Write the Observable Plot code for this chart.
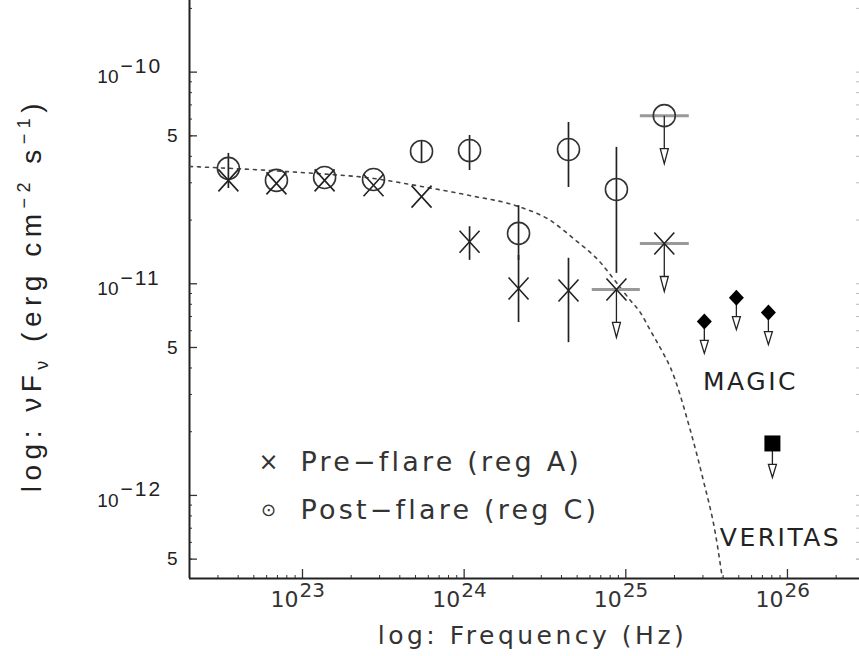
<!DOCTYPE html>
<html><head><meta charset="utf-8">
<script src="https://cdn.jsdelivr.net/npm/d3@7"></script>
<script src="https://cdn.jsdelivr.net/npm/@observablehq/plot@0.6"></script>
<style>body{margin:0;background:#fff}</style>
</head><body><div id="chart"></div>
<script>
// ---- data ----
const freq = [3.48e22, 6.9e22, 1.37e23, 2.75e23, 5.45e23, 1.08e24, 2.17e24, 4.42e24, 8.75e24, 1.73e25];
const preFlux = [3.08e-11, 2.98e-11, 3.08e-11, 2.92e-11, 2.58e-11, 1.58e-11, 9.5e-12, 9.3e-12, 9.4e-12, 1.55e-11];
const preLo   = [null, null, null, null, null, 1.29e-11, 6.56e-12, 5.27e-12, null, null];
const preHi   = [null, null, null, null, null, 1.86e-11, 1.36e-11, 1.32e-11, null, null];
const preFLo  = [null, null, null, null, null, null, null, null, 6.2e24, 1.23e25];
const preFHi  = [null, null, null, null, null, null, null, null, 1.23e25, 2.47e25];
const preUL   = [false, false, false, false, false, false, false, false, true, true];

const postFlux = [3.51e-11, 3.08e-11, 3.18e-11, 3.11e-11, 4.22e-11, 4.26e-11, 1.73e-11, 4.31e-11, 2.79e-11, 6.23e-11];
const postLo   = [2.82e-11, null, null, null, 3.7e-11, 3.43e-11, 1.29e-11, 2.85e-11, 1.12e-11, null];
const postHi   = [4.13e-11, null, null, null, 4.75e-11, 5.02e-11, 2.34e-11, 5.78e-11, 4.41e-11, null];
const postFLo  = [null, null, null, null, null, null, null, null, null, 1.23e25];
const postFHi  = [null, null, null, null, null, null, null, null, null, 2.47e25];
const postUL   = [false, false, false, false, false, false, false, false, false, true];

const magicFreq = [3.06e25, 4.83e25, 7.62e25];
const magicFlux = [6.64e-12, 8.6e-12, 7.31e-12];
const veritasFreq = [8.07e25];
const veritasFlux = [1.76e-12];

const modelFreq = [2.0e22, 9.72e22, 2.75e23, 5.44e23, 1.079e24, 2.167e24, 3.418e24, 4.742e24, 6.966e24, 8.748e24, 1.068e25, 1.231e25, 1.419e25, 1.708e25, 1.887e25, 2.509e25, 3.019e25, 3.583e25, 3.958e25];
const modelFlux = [3.584e-11, 3.357e-11, 3.145e-11, 2.883e-11, 2.614e-11, 2.318e-11, 1.991e-11, 1.637e-11, 1.26e-11, 1.014e-11, 8.34e-12, 7.31e-12, 6.02e-12, 4.68e-12, 4.02e-12, 2.026e-12, 1.176e-12, 6.6e-13, 4.05e-13];

const xMajor = [1e23, 1e24, 1e25, 1e26];
const xExp = ["23", "24", "25", "26"];
const yMajor = [1e-10, 1e-11, 1e-12];
const yExp = ["\u221210", "\u221211", "\u221212"];
const yFive = [5e-11, 5e-12, 5e-13];
const legendLabels = ["Pre\u2212flare (reg A)", "Post\u2212flare (reg C)"];
const instLabels = ["MAGIC", "VERITAS"];
const xTitle = "log: Frequency (Hz)";

// ---- tables ----
const pre = freq.map((f, i) => ({f, v: preFlux[i], lo: preLo[i], hi: preHi[i], fLo: preFLo[i], fHi: preFHi[i], ul: preUL[i]}));
const post = freq.map((f, i) => ({f, v: postFlux[i], lo: postLo[i], hi: postHi[i], fLo: postFLo[i], fHi: postFHi[i], ul: postUL[i]}));
const all = pre.concat(post);
const magic = magicFreq.map((f, i) => ({f, v: magicFlux[i]}));
const veritas = veritasFreq.map((f, i) => ({f, v: veritasFlux[i]}));
const model = modelFreq.map((f, i) => ({f, v: modelFlux[i]}));

const xDomain = [2.0e22, 2.79e26];
const yDomain = [4.05e-13, 2.18e-10];
const xMinor = [], yMinor = [];
for (let e = 22; e <= 26; e++) for (let k = 2; k <= 9; k++) { const v = k * Math.pow(10, e); if (v > xDomain[0] && v < xDomain[1]) xMinor.push(v); }
for (let e = -13; e <= -10; e++) for (let k = 2; k <= 9; k++) { const v = k * Math.pow(10, e); if (v > yDomain[0] && v < yDomain[1]) yMinor.push(v); }

// ---- symbols ----
const crossSym = {draw(c) { c.moveTo(-10, -11); c.lineTo(10, 11); c.moveTo(-10, 11); c.lineTo(10, -11); }};
const diamondSym = {draw(c) { c.moveTo(0, -8); c.lineTo(7.5, 0); c.lineTo(0, 8); c.lineTo(-7.5, 0); c.closePath(); }};
const squareSym = {draw(c) { c.moveTo(-8, -8); c.lineTo(8, -8); c.lineTo(8, 8); c.lineTo(-8, 8); c.closePath(); }};
const arrowSym = (L, hw, hh) => ({draw(c) { c.moveTo(0, 0); c.lineTo(0, L - hh); c.moveTo(-hw, L - hh); c.lineTo(hw, L - hh); c.lineTo(0, L); c.closePath(); }});
const arrowLong = arrowSym(48, 4, 15);
const arrowShort = arrowSym(32, 4, 13);
const arrowVer = arrowSym(34, 4, 13);

const HERSHEY = "DejaVu Sans, sans-serif";
const HELV = "Liberation Sans, Arial, sans-serif";
const TA = {frameAnchor: "top-left", text: d => d, lineAnchor: "middle", fontFamily: HERSHEY};

const chart = Plot.plot({
  width: 859, height: 656,
  marginLeft: 189, marginRight: 0, marginTop: 0, marginBottom: 78,
  x: {type: "log", domain: xDomain, axis: null},
  y: {type: "log", domain: yDomain, axis: null},
  style: {background: "white"},
  marks: [
    // ticks
    Plot.ruleY(yMinor, {y: d => d, insetRight: 667, stroke: "#333"}),
    Plot.ruleY(yMajor.concat(yFive), {y: d => d, insetRight: 662, stroke: "#333", strokeWidth: 1.3}),
    Plot.ruleY(yMinor.concat(yMajor, yFive), {y: d => d, insetLeft: 667, stroke: "#bbb"}),
    Plot.ruleX(xMinor, {x: d => d, insetTop: 575, stroke: "#333"}),
    Plot.ruleX(xMajor, {x: d => d, insetTop: 569, stroke: "#333", strokeWidth: 1.3}),
    Plot.ruleX([xDomain[0]], {x: d => d, stroke: "#222", strokeWidth: 2}),
    Plot.ruleY([yDomain[0]], {y: d => d, stroke: "#222", strokeWidth: 2}),
    // model
    Plot.line(model, {x: "f", y: "v", stroke: "#444", strokeWidth: 1.6, strokeDasharray: "3,5", curve: "monotone-x"}),
    // horizontal bars (upper limits)
    Plot.ruleY(all.filter(d => d.fLo), {y: "v", x1: "fLo", x2: "fHi", stroke: "#999", strokeWidth: 3}),
    // vertical error bars
    Plot.ruleX(all.filter(d => d.lo), {x: "f", y1: "lo", y2: "hi", stroke: "#222", strokeWidth: 1.7}),
    // arrows
    Plot.dot(all.filter(d => d.ul), {x: "f", y: "v", symbol: arrowLong, stroke: "#222", fill: "white", strokeWidth: 1.3}),
    Plot.dot(magic, {x: "f", y: "v", symbol: arrowShort, stroke: "#222", fill: "white", strokeWidth: 1.3}),
    Plot.dot(veritas, {x: "f", y: "v", symbol: arrowVer, stroke: "#222", fill: "white", strokeWidth: 1.3}),
    // markers
    Plot.dot(post, {x: "f", y: "v", r: 11, symbol: "circle", stroke: "#333", fill: "none", strokeWidth: 1.6}),
    Plot.dot(pre, {x: "f", y: "v", symbol: crossSym, stroke: "#222", fill: "none", strokeWidth: 1.6}),
    Plot.dot(magic, {x: "f", y: "v", symbol: diamondSym, fill: "#000", stroke: "none"}),
    Plot.dot(veritas, {x: "f", y: "v", symbol: squareSym, fill: "#000", stroke: "none"}),
    // tick labels
    Plot.text(xMajor, {x: d => d, frameAnchor: "bottom", text: () => "10", textAnchor: "end", dx: -4, dy: 21, lineAnchor: "middle", fontSize: 22, fontFamily: HERSHEY, fill: "#333"}),
    Plot.text(xMajor, {x: d => d, frameAnchor: "bottom", text: (d, i) => xExp[i], textAnchor: "start", dx: -3, dy: 12, lineAnchor: "middle", fontSize: 20, fontFamily: HERSHEY, fill: "#333"}),
    Plot.text(yMajor, {y: d => d, frameAnchor: "left", text: () => "10", textAnchor: "end", dx: -71, dy: 5, lineAnchor: "middle", fontSize: 19, fontFamily: HELV, fill: "#222"}),
    Plot.text(yMajor, {y: d => d, frameAnchor: "left", text: (d, i) => yExp[i], textAnchor: "start", dx: -69, dy: -6, lineAnchor: "middle", fontSize: 21, fontFamily: HELV, fill: "#222"}),
    Plot.text(yFive, {y: d => d, frameAnchor: "left", text: () => "5", textAnchor: "end", dx: -12, lineAnchor: "middle", fontSize: 19, fontFamily: HELV, fill: "#222"}),
    // x title
    Plot.text([xTitle], {frameAnchor: "bottom", text: d => d, dx: 8, dy: 57, lineAnchor: "middle", fontSize: 25, fontFamily: HERSHEY, fill: "#333"}),
    // legend
    Plot.text(["\u00d7"], {...TA, dx: 79, dy: 462, textAnchor: "middle", fontSize: 24, fill: "#333"}),
    Plot.text(["\u2299"], {...TA, dx: 79, dy: 510, textAnchor: "middle", fontSize: 18, fill: "#333"}),
    Plot.text([legendLabels[0]], {...TA, dx: 111, dy: 462, textAnchor: "start", fontSize: 27, fill: "#333"}),
    Plot.text([legendLabels[1]], {...TA, dx: 111, dy: 510, textAnchor: "start", fontSize: 27, fill: "#333"}),
    Plot.text([instLabels[0]], {...TA, dx: 561, dy: 381, textAnchor: "middle", fontSize: 25, fill: "#222"}),
    Plot.text([instLabels[1]], {...TA, dx: 591, dy: 537, textAnchor: "middle", fontSize: 25, fill: "#222"})
  ]
});

// wider letter spacing for the plotter-style (Hershey-like) texts
const spacing = new Map([
  [legendLabels[0], 3.2], [legendLabels[1], 3.2],
  [xTitle, 3.5], [instLabels[0], 2.5], [instLabels[1], 2.5]
]);
yExp.forEach(t => spacing.set(t, 2));
d3.select(chart).selectAll("text").each(function() {
  const s = spacing.get(this.textContent);
  if (s != null) d3.select(this).attr("letter-spacing", s);
});

// y-axis title with sub/superscripts
const yt = d3.select(chart).append("text")
  .attr("transform", "translate(41,295) rotate(-90)")
  .attr("text-anchor", "middle")
  .attr("font-family", HELV)
  .attr("font-size", 28)
  .attr("letter-spacing", 5.5)
  .attr("fill", "#222");
yt.append("tspan").text("log: \u03bdF");
yt.append("tspan").attr("font-size", 18).attr("dy", 7).text("\u03bd");
yt.append("tspan").attr("dy", -7).text(" (erg cm");
yt.append("tspan").attr("font-size", 18).attr("dy", -11).text("\u22122");
yt.append("tspan").attr("dy", 11).text(" s");
yt.append("tspan").attr("font-size", 18).attr("dy", -11).text("\u22121");
yt.append("tspan").attr("dy", 11).text(")");

document.getElementById("chart").appendChild(chart);
</script>
</body></html>
